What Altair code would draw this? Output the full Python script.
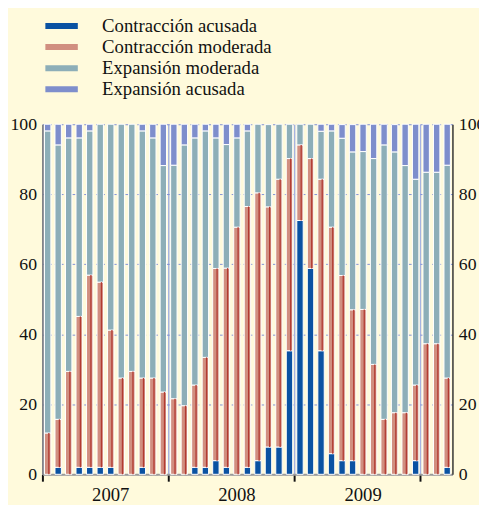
import altair as alt
import pandas as pd

# Months (Jan 2007 - Mar 2010)
years = [2007, 2008, 2009]
months = [f"{y}-{m:02d}" for y in years for m in range(1, 13)] + ["2010-01", "2010-02", "2010-03"]

series = ["Contracción acusada", "Contracción moderada", "Expansión moderada", "Expansión acusada"]

contr_acusada = [0, 2.0, 0, 2.0, 2.0, 2.0, 2.0, 0, 0, 2.0, 0, 0,
                 0, 0, 2.0, 2.0, 3.9, 2.0, 0, 2.0, 3.9, 7.8, 7.8, 35.3,
                 72.5, 58.8, 35.3, 5.9, 3.9, 3.9, 0, 0, 0, 0, 0, 3.9,
                 0, 0, 2.0]
contr_moderada = [11.8, 13.7, 29.4, 43.1, 54.9, 52.9, 39.2, 27.5, 29.4, 25.5, 27.5, 23.5,
                  21.6, 19.6, 23.5, 31.4, 54.9, 56.9, 70.6, 74.5, 76.5, 68.6, 76.5, 54.9,
                  21.6, 31.4, 49.0, 64.7, 52.9, 43.1, 47.1, 31.4, 15.7, 17.6, 17.6, 21.6,
                  37.3, 37.3, 25.5]
exp_moderada = [86.3, 78.4, 66.7, 51.0, 41.2, 45.1, 58.8, 72.5, 70.6, 70.6, 68.6, 64.7,
                66.7, 74.5, 70.6, 64.7, 37.3, 35.3, 25.5, 21.6, 19.6, 23.5, 15.7, 9.8,
                5.9, 9.8, 13.7, 27.5, 39.2, 45.1, 45.1, 58.8, 78.4, 74.5, 70.6, 58.8,
                49.0, 49.0, 60.8]
exp_acusada = [2.0, 5.9, 3.9, 3.9, 2.0, 0, 0, 0, 0, 2.0, 3.9, 11.8,
               11.8, 5.9, 3.9, 2.0, 3.9, 5.9, 3.9, 2.0, 0, 0, 0, 0,
               0, 0, 2.0, 2.0, 3.9, 7.8, 7.8, 9.8, 5.9, 7.8, 11.8, 15.7,
               13.7, 13.7, 11.8]

colors = ["#0A52A2", "#D18F80", "#8DAEB8", "#7E8ECC"]

arrays = [contr_acusada, contr_moderada, exp_moderada, exp_acusada]
rows = []
for i, m in enumerate(months):
    base = 0.0
    for s, arr in zip(series, arrays):
        v = arr[i]
        if v > 0:
            rows.append({"month": m, "serie": s, "y0": base, "y1": base + v})
        base += v
df = pd.DataFrame(rows)

FONT = "Liberation Serif"
STEP = 417 / 39

x_enc = alt.X(
    "month:O",
    scale=alt.Scale(domain=months, paddingInner=0, paddingOuter=0),
    axis=alt.Axis(
        values=["2007-01", "2008-01", "2009-01", "2010-01"],
        bandPosition=0,
        labelExpr="datum.value == '2010-01' ? '' : substring(datum.value, 0, 4)",
        labelOffset=6 * STEP,
        labelAngle=0,
        labelFont=FONT, labelFontSize=19, labelColor="#111",
        labelPadding=5,
        tickSize=7, tickColor="#111", tickWidth=2,
        domainColor="#9a9a9a", domainWidth=2,
        grid=True, gridColor="#A6B2E2", gridWidth=1.5,
        title=None,
    ),
)

bars = alt.Chart(df).mark_bar(size=6.5, stroke="white", strokeWidth=1).encode(
    x=x_enc,
    y=alt.Y(
        "y0:Q",
        scale=alt.Scale(domain=[0, 100], clamp=True, nice=False),
        axis=alt.Axis(
            values=[0, 20, 40, 60, 80, 100],
            grid=True, gridDash=[3, 3], gridColor="#7F8FD6", gridWidth=1,
            tickSize=0, domainColor="#777", domainWidth=1.5,
            labelFont=FONT, labelFontSize=18, labelColor="#111", labelPadding=6,
            title=None,
        ),
    ),
    y2="y1:Q",
    color=alt.Color(
        "serie:N",
        scale=alt.Scale(domain=series, range=colors),
        legend=alt.Legend(
            orient="none", legendX=10, legendY=-109.5,
            title=None, padding=0,
            symbolType="M-3,-0.55H3V0.55H-3Z", symbolSize=121,
            symbolStrokeWidth=0,
            labelFont=FONT, labelFontSize=19, labelColor="#111",
            labelOffset=31.7, rowPadding=1.5, labelLimit=0,
        ),
    ),
)

stripes = alt.Chart(df).transform_filter(
    alt.datum.serie == "Contracción moderada"
).mark_bar(size=1.3, xOffset=1.2, color="#B23A32").encode(
    x=alt.X("month:O", scale=alt.Scale(domain=months, paddingInner=0, paddingOuter=0)),
    y=alt.Y(
        "y0:Q",
        scale=alt.Scale(domain=[0, 100], clamp=True, nice=False),
        axis=alt.Axis(
            orient="right",
            values=[0, 20, 40, 60, 80, 100],
            grid=False, tickSize=0, domainColor="#333", domainWidth=1.5,
            labelFont=FONT, labelFontSize=18, labelColor="#111", labelPadding=6,
            title=None,
        ),
    ),
    y2="y1:Q",
)

chart = alt.layer(bars, stripes).resolve_scale(y="independent").properties(
    width=417, height=356,
    background="#FFFADC",
    autosize=alt.AutoSizeParams(type="none"),
    padding={"left": 35, "top": 114, "right": 27, "bottom": 27},
).configure_view(stroke=None)

chart.save("out.html", embed_options={"renderer": "svg", "actions": False})
